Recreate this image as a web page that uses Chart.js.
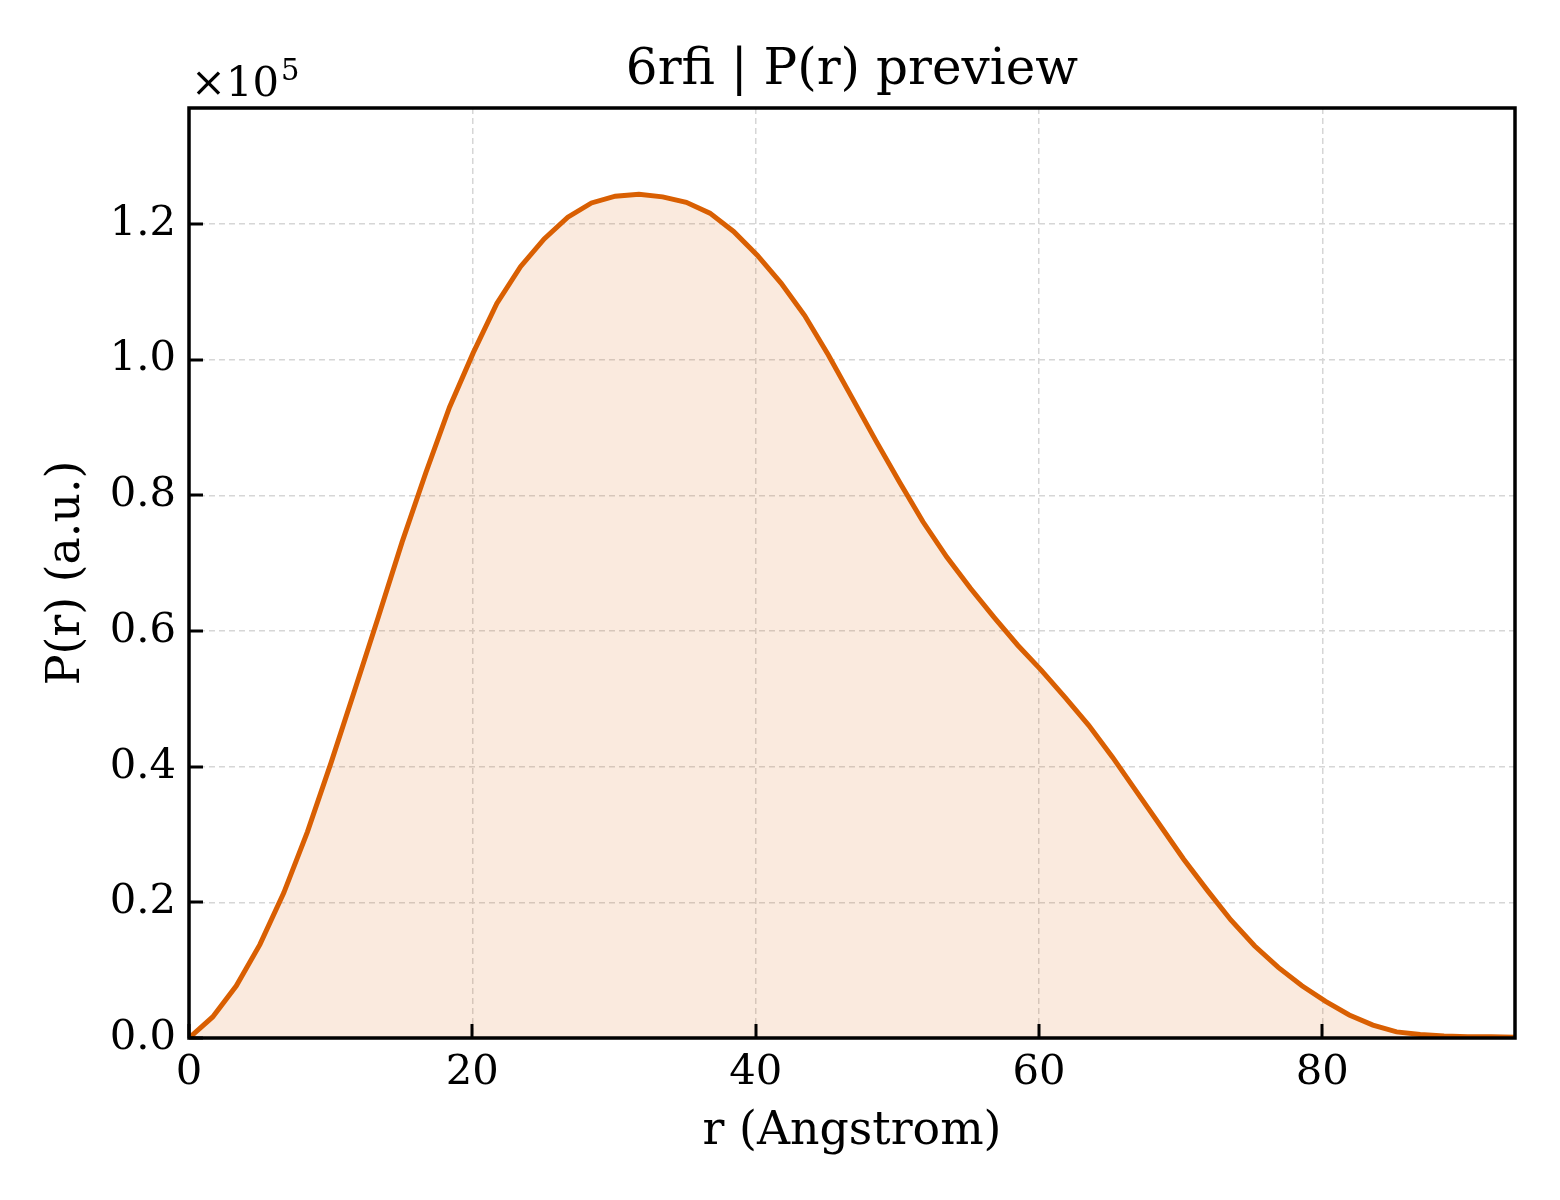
<!DOCTYPE html>
<html>
<head>
<meta charset="utf-8">
<title>6rfi | P(r) preview</title>
<script src="https://cdn.jsdelivr.net/npm/chart.js@4.4.1/dist/chart.umd.min.js"></script>
<style>
  html, body { margin: 0; padding: 0; background: #ffffff; }
  #prChart { display: block; }
</style>
</head>
<body>
<canvas id="prChart" width="1560" height="1200"></canvas>
<script>
// r (Angstrom) sampling of the curve
const rValues = [
  0.00, 1.67, 3.34, 5.01, 6.69, 8.36, 10.03, 11.70, 13.37, 15.04,
  16.71, 18.39, 20.06, 21.73, 23.40, 25.07, 26.74, 28.41, 30.09, 31.76,
  33.43, 35.10, 36.77, 38.44, 40.11, 41.79, 43.46, 45.13, 46.80, 48.47,
  50.14, 51.81, 53.49, 55.16, 56.83, 58.50, 60.17, 61.84, 63.51, 65.19,
  66.86, 68.53, 70.20, 71.87, 73.54, 75.21, 76.89, 78.56, 80.23, 81.90,
  83.57, 85.24, 86.91, 88.59, 90.26, 91.93, 93.60
];

// P(r) in units of 1e5 (a.u.)
const prValues = [
  0.000, 0.031, 0.077, 0.138, 0.214, 0.304, 0.406, 0.513, 0.621, 0.731,
  0.833, 0.930, 1.010, 1.083, 1.137, 1.178, 1.210, 1.231, 1.241, 1.244,
  1.240, 1.232, 1.216, 1.189, 1.154, 1.113, 1.065, 1.007, 0.944, 0.881,
  0.820, 0.761, 0.709, 0.663, 0.620, 0.579, 0.542, 0.502, 0.461, 0.414,
  0.364, 0.314, 0.264, 0.218, 0.174, 0.136, 0.104, 0.077, 0.054, 0.034,
  0.019, 0.009, 0.005, 0.003, 0.002, 0.002, 0.001
];

const xTicks = [0, 20, 40, 60, 80];
const yTicks = [0.0, 0.2, 0.4, 0.6, 0.8, 1.0, 1.2];

const FONT = "'DejaVu Serif', 'Liberation Serif', serif";
const lineColor = "#d95f02";

// frame, inward tick marks and the x10^5 multiplier
const framePlugin = {
  id: "frame",
  afterDatasetsDraw(chart) {
    const ctx = chart.ctx;
    const area = chart.chartArea;
    const xs = chart.scales.x;
    const ys = chart.scales.y;
    ctx.save();
    ctx.strokeStyle = "#000";
    ctx.lineWidth = 3;
    xTicks.forEach(v => {
      const px = Math.round(xs.getPixelForValue(v));
      ctx.beginPath();
      ctx.moveTo(px, area.bottom);
      ctx.lineTo(px, area.bottom - 14);
      ctx.stroke();
    });
    yTicks.forEach(v => {
      const py = Math.round(ys.getPixelForValue(v));
      ctx.beginPath();
      ctx.moveTo(area.left, py);
      ctx.lineTo(area.left + 14, py);
      ctx.stroke();
    });
    ctx.lineWidth = 3.5;
    ctx.strokeRect(area.left, area.top, area.right - area.left, area.bottom - area.top);

    ctx.fillStyle = "#000";
    ctx.textBaseline = "alphabetic";
    ctx.font = "41.7px " + FONT;
    ctx.fillText("\u00d710", area.left + 2, area.top - 12);
    const w = ctx.measureText("\u00d710").width;
    ctx.font = "29px " + FONT;
    ctx.fillText("5", area.left + 2 + w + 2, area.top - 28);
    ctx.restore();
  }
};

const ctx = document.getElementById("prChart").getContext("2d");
const prChart = new Chart(ctx, {
  type: "line",
  data: {
    datasets: [{
      label: "P(r)",
      data: rValues.map((r, i) => ({ x: r, y: prValues[i] })),
      borderColor: lineColor,
      backgroundColor: "rgba(217, 95, 2, 0.13)",
      borderWidth: 5,
      pointRadius: 0,
      tension: 0,
      fill: "origin"
    }]
  },
  options: {
    responsive: false,
    animation: false,
    devicePixelRatio: 1,
    layout: { padding: { left: 0, right: 45, top: 0, bottom: 0 } },
    plugins: {
      legend: { display: false },
      tooltip: { enabled: false },
      title: {
        display: true,
        fullSize: false,
        text: "6rfi | P(r) preview",
        color: "#000",
        font: { family: FONT, size: 50, weight: "normal" },
        padding: { top: 41, bottom: 7 }
      }
    },
    scales: {
      x: {
        type: "linear",
        min: 0,
        max: 93.6,
        afterFit(s) { s.height = 162; },
        afterBuildTicks(s) { s.ticks = xTicks.map(v => ({ value: v })); },
        ticks: {
          color: "#000",
          font: { family: FONT, size: 41.7 },
          padding: 10,
          maxRotation: 0,
          callback: v => String(v)
        },
        grid: { color: "#d6d6d6", lineWidth: 1.5, drawTicks: false },
        border: { display: false, dash: [6, 4] },
        title: {
          display: true,
          text: "r (Angstrom)",
          color: "#000",
          font: { family: FONT, size: 45.8 },
          padding: { top: 0, bottom: 40 }
        }
      },
      y: {
        type: "linear",
        min: 0,
        max: 1.371,
        afterFit(s) { s.width = 189; },
        afterBuildTicks(s) { s.ticks = yTicks.map(v => ({ value: v })); },
        ticks: {
          color: "#000",
          font: { family: FONT, size: 41.7 },
          padding: 13,
          callback: v => v.toFixed(1)
        },
        grid: { color: "#d6d6d6", lineWidth: 1.5, drawTicks: false },
        border: { display: false, dash: [6, 4] },
        title: {
          display: true,
          text: "P(r) (a.u.)",
          color: "#000",
          font: { family: FONT, size: 45.8 },
          padding: { top: 40, bottom: 0 }
        }
      }
    }
  },
  plugins: [framePlugin]
});
</script>
</body>
</html>
